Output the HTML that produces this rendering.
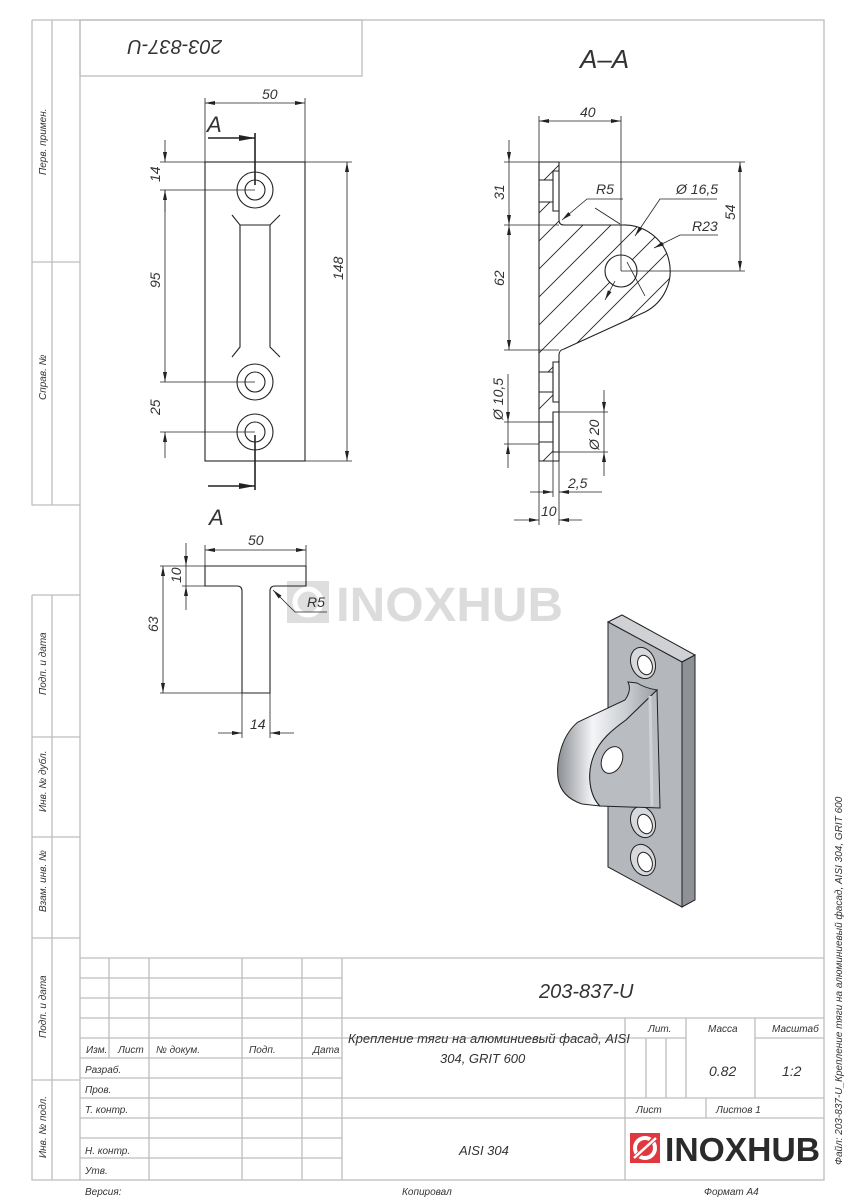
<!DOCTYPE html>
<html><head><meta charset="utf-8"><style>
html,body{margin:0;padding:0;background:#fff;}
svg{display:block;}
text{font-family:"Liberation Sans","DejaVu Sans",sans-serif;font-style:italic;fill:#333;}
text.up{font-style:normal;}
</style></head><body>
<svg width="848" height="1200" viewBox="0 0 848 1200" xmlns="http://www.w3.org/2000/svg">
<defs>
<marker id="ar" viewBox="0 0 10 4" refX="10" refY="2" markerWidth="10" markerHeight="4" orient="auto-start-reverse" markerUnits="userSpaceOnUse"><path d="M0,0 L10,2 L0,4 Z" fill="#222"/></marker>
<marker id="ab" viewBox="0 0 16 6" refX="16" refY="3" markerWidth="16" markerHeight="6" orient="auto" markerUnits="userSpaceOnUse"><path d="M0,0 L16,3 L0,6 Z" fill="#222"/></marker>
<clipPath id="sec"><path d="M539,162 L559,162 L559,220 Q559,225 564,225 L623,225 A46,46 0 0 1 645,312 L564,349 Q559,350 559,355 L559,461 L539,461 Z"/></clipPath>
<linearGradient id="lg" x1="0" y1="0" x2="1" y2="0"><stop offset="0" stop-color="#8a8d92"/><stop offset="0.35" stop-color="#f4f5f7"/><stop offset="0.7" stop-color="#c9ccd0"/><stop offset="1" stop-color="#9a9da2"/></linearGradient>
</defs>

<g fill="none" stroke="#bdbdbd" stroke-width="1.3">
<rect x="80" y="20" width="744" height="1160"/>
<rect x="80" y="20" width="282" height="56"/>
<path d="M32,20 H80 M32,20 V505 H80 M52,20 V505 M32,262 H80"/>
<path d="M32,595 H80 M32,595 V1180 H80 M52,595 V1180 M32,737 H80 M32,837 H80 M32,938 H80 M32,1080 H80"/>
<path d="M80,958 H824 M80,978 H342 M80,998 H342 M80,1018 H824 M80,1038 H686 M80,1058 H342 M80,1078 H342 M80,1098 H824 M80,1118 H824 M80,1138 H342 M80,1158 H342"/>
<path d="M109,958 V1058 M149,958 V1180 M242,958 V1180 M302,958 V1180 M342,958 V1180 M625,1018 V1180 M646,1038 V1098 M666,1038 V1098 M686,1018 V1098 M755,1018 V1098 M706,1098 V1118 M755,1038 H824"/>
</g>
<g font-size="10">
<text transform="translate(46,175) rotate(-90)">Перв. примен.</text>
<text transform="translate(46,400) rotate(-90)">Справ. №</text>
<text transform="translate(46,695) rotate(-90)">Подп. и дата</text>
<text transform="translate(46,812) rotate(-90)">Инв. № дубл.</text>
<text transform="translate(46,912) rotate(-90)">Взам. инв. №</text>
<text transform="translate(46,1038) rotate(-90)">Подп. и дата</text>
<text transform="translate(46,1158) rotate(-90)">Инв. № подл.</text>
<text x="86" y="1053">Изм.</text><text x="118" y="1053">Лист</text><text x="156" y="1053">№ докум.</text><text x="249" y="1053">Подп.</text><text x="313" y="1053">Дата</text>
<text x="85" y="1073">Разраб.</text><text x="85" y="1093">Пров.</text><text x="85" y="1113">Т. контр.</text><text x="85" y="1154">Н. контр.</text><text x="85" y="1174">Утв.</text>
<text x="648" y="1032">Лит.</text><text x="708" y="1032">Масса</text><text x="772" y="1032">Масштаб</text>
<text x="636" y="1113">Лист</text><text x="716" y="1113">Листов 1</text>
<text x="85" y="1195">Версия:</text><text x="402" y="1195">Копировал</text><text x="704" y="1195">Формат А4</text>
<text transform="translate(842,1165) rotate(-90)" font-size="10">Файл: 203-837-U_Крепление тяги на алюминиевый фасад, AISI 304, GRIT 600</text>
</g>
<text x="539" y="998" font-size="20">203-837-U</text>
<text x="348" y="1043" font-size="13">Крепление тяги на алюминиевый фасад, AISI</text>
<text x="440" y="1063" font-size="13">304, GRIT 600</text>
<text x="709" y="1076" font-size="14">0.82</text><text x="782" y="1076" font-size="14">1:2</text>
<text x="459" y="1155" font-size="13">AISI 304</text>
<text x="222" y="54" font-size="20" transform="rotate(180 222 47)">203-837-U</text>
<rect x="630" y="1133" width="30" height="30" fill="#e0383e"/>
<circle cx="645" cy="1148" r="10" fill="none" stroke="#fff" stroke-width="4"/>
<path d="M633,1160 L657,1136" stroke="#e0383e" stroke-width="5"/>
<path d="M634,1158 L656,1138" stroke="#fff" stroke-width="2.5"/>
<text class="up" x="665" y="1161" font-size="33" font-weight="bold" style="fill:#2b2b2b;font-style:normal" textLength="155" lengthAdjust="spacingAndGlyphs">INOXHUB</text>
<rect x="287" y="581" width="42" height="42" fill="#dedede"/>
<circle cx="308" cy="602" r="13" fill="none" stroke="#fff" stroke-width="5"/>
<text class="up" x="336" y="621" font-size="48" font-weight="bold" style="fill:#dcdcdc;font-style:normal" textLength="227" lengthAdjust="spacingAndGlyphs">INOXHUB</text>

<g stroke="#222" stroke-width="1.1" fill="none">
<rect x="205" y="162" width="100" height="299"/>
<circle cx="255" cy="190" r="18"/><circle cx="255" cy="190" r="10"/>
<circle cx="255" cy="382" r="18"/><circle cx="255" cy="382" r="10"/>
<circle cx="255" cy="432" r="18"/><circle cx="255" cy="432" r="10"/>
<path d="M232,215 L240,225 H270 L280,215 M240,225 V347 L232,357 M270,225 V347 L280,357"/>
<g stroke-width="0.8">
<path d="M205,162 V98 M305,162 V98 M305,162 H352 M305,461 H352 M160,162 H205 M160,190 H255 M160,382 H255 M160,432 H255"/>
<path d="M205,103 H305" marker-start="url(#ar)" marker-end="url(#ar)"/>
<path d="M347,162 V461" marker-start="url(#ar)" marker-end="url(#ar)"/>
<path d="M165,140 V162" marker-end="url(#ar)"/><path d="M165,190 V382" marker-start="url(#ar)" marker-end="url(#ar)"/>
<path d="M165,432 V458" marker-start="url(#ar)"/><path d="M165,190 V212" />
</g>
<path d="M255,133 V185 M255,435 V490" stroke-width="1.6"/>
<path d="M208,138 H255" stroke-width="1.6" marker-end="url(#ab)"/>
<path d="M208,486 H255" stroke-width="1.6" marker-end="url(#ab)"/>

<g clip-path="url(#sec)" stroke-width="0.9">
<path d="M100,540 L540,100 M128,540 L568,100 M156,540 L596,100 M184,540 L624,100 M212,540 L652,100 M240,540 L680,100 M268,540 L708,100 M296,540 L736,100 M324,540 L764,100 M352,540 L792,100 M380,540 L820,100 M408,540 L848,100 M436,540 L876,100 M464,540 L904,100 M492,540 L932,100 M520,540 L960,100 M548,540 L988,100 M576,540 L1016,100 M604,540 L1044,100 M632,540 L1072,100 M660,540 L1100,100 M72,540 L512,100 M44,540 L484,100"/>
</g>
<g fill="#fff" stroke="none">
<rect x="539.6" y="180" width="14" height="22"/><rect x="553" y="171" width="6" height="40"/>
<rect x="539.6" y="372" width="14" height="20"/><rect x="553" y="362" width="6" height="40"/>
<rect x="539.6" y="422" width="14" height="20"/><rect x="553" y="412" width="6" height="40"/>
</g>
<path d="M539,162 L559,162 L559,220 Q559,225 564,225 L623,225 A46,46 0 0 1 645,312 L564,349 Q559,350 559,355 L559,461 L539,461 Z"/>
<path d="M559,171 H553 V211 H559 M539,180 H553 M539,202 H553"/>
<path d="M559,362 H553 V402 H559 M539,372 H553 M539,392 H553"/>
<path d="M559,412 H553 V452 H559 M539,422 H553 M539,442 H553"/>
<circle cx="621" cy="271" r="16" fill="#fff"/>
<g stroke-width="0.8">
<path d="M539,162 V116 M621,271 V116 M504,162 H745 M504,225 H559 M504,350 H559 M621,271 H745"/>
<path d="M539,121 H621" marker-start="url(#ar)" marker-end="url(#ar)"/>
<path d="M509,140 V162" marker-end="url(#ar)"/><path d="M509,162 V225" marker-end="url(#ar)"/>
<path d="M509,225 V350" marker-start="url(#ar)" marker-end="url(#ar)"/>
<path d="M740,162 V271" marker-start="url(#ar)" marker-end="url(#ar)"/>
<path d="M620,224 L595,208"/>
<path d="M562,220 L587,199 H623" marker-start="url(#ar)"/>
<path d="M635,236 L660,199 H717" marker-start="url(#ar)"/>
<path d="M627,262 L645,296"/><path d="M615,281 L605,300" marker-end="url(#ar)"/>
<path d="M654,248 L680,235 H718" marker-start="url(#ar)"/>
<path d="M504,422 H539 M504,444 H539 M559,412 H608 M559,452 H608"/>
<path d="M508,374 V422" marker-end="url(#ar)"/><path d="M508,444 V468" marker-start="url(#ar)"/><path d="M508,422 V444"/>
<path d="M604,390 V412" marker-end="url(#ar)"/><path d="M604,452 V476" marker-start="url(#ar)"/><path d="M604,412 V452"/>
<path d="M539,461 V525 M559,461 V525 M553,452 V497"/>
<path d="M530,492 H553" marker-end="url(#ar)"/><path d="M559,492 H602" marker-start="url(#ar)"/>
<path d="M514,520 H539" marker-end="url(#ar)"/><path d="M559,520 H582" marker-start="url(#ar)"/>
</g>

<path d="M205,566 H306 V586 H275 Q270,586 270,591 V693 H242 V591 Q242,586 237,586 H205 Z"/>
<g stroke-width="0.8">
<path d="M205,566 V545 M306,566 V545 M160,566 H205 M182,586 H205 M160,693 H242 M242,693 V738 M270,693 V738"/>
<path d="M205,550 H306" marker-start="url(#ar)" marker-end="url(#ar)"/>
<path d="M186,543 V566" marker-end="url(#ar)"/><path d="M186,586 V610" marker-start="url(#ar)"/><path d="M186,566 V586"/>
<path d="M163,566 V693" marker-start="url(#ar)" marker-end="url(#ar)"/>
<path d="M218,733 H242" marker-end="url(#ar)"/><path d="M270,733 H294" marker-start="url(#ar)"/>
<path d="M273,590 L295,612 H327" marker-start="url(#ar)"/>
</g>
</g>

<g font-size="14">
<text x="262" y="99">50</text><text x="580" y="117">40</text><text x="248" y="545">50</text><text x="250" y="729">14</text>
<text x="596" y="194">R5</text><text x="676" y="194">Ø 16,5</text><text x="692" y="231">R23</text><text x="307" y="607">R5</text>
<text x="568" y="488">2,5</text><text x="541" y="516">10</text>
<text transform="translate(160,182) rotate(-90)">14</text>
<text transform="translate(160,288) rotate(-90)">95</text>
<text transform="translate(160,415) rotate(-90)">25</text>
<text transform="translate(343,280) rotate(-90)">148</text>
<text transform="translate(504,200) rotate(-90)">31</text>
<text transform="translate(504,286) rotate(-90)">62</text>
<text transform="translate(735,220) rotate(-90)">54</text>
<text transform="translate(503,420) rotate(-90)">Ø 10,5</text>
<text transform="translate(599,450) rotate(-90)">Ø 20</text>
<text transform="translate(181,583) rotate(-90)">10</text>
<text transform="translate(158,632) rotate(-90)">63</text>
</g>
<text x="207" y="132" font-size="22">A</text>
<text x="209" y="525" font-size="22">A</text>
<text x="580" y="68" font-size="26">A–A</text>

<g stroke="#222" stroke-width="1">
<path d="M608,622 L622,615 L695,655 L682,662 Z" fill="#cfd1d4"/>
<path d="M682,662 L695,655 L695,900 L682,907 Z" fill="#8e9196"/>
<path d="M608,622 L682,662 L682,907 L608,867 Z" fill="#b4b7bb"/>
<ellipse cx="643" cy="663" rx="12" ry="16" transform="rotate(-20 643 663)" fill="#d7d9dc"/>
<ellipse cx="645" cy="665" rx="7" ry="10" transform="rotate(-20 645 665)" fill="#fff"/>
<ellipse cx="643" cy="822" rx="12" ry="16" transform="rotate(-20 643 822)" fill="#d7d9dc"/>
<ellipse cx="645" cy="824" rx="7" ry="10" transform="rotate(-20 645 824)" fill="#fff"/>
<ellipse cx="643" cy="860" rx="12" ry="16" transform="rotate(-20 643 860)" fill="#d7d9dc"/>
<ellipse cx="645" cy="862" rx="7" ry="10" transform="rotate(-20 645 862)" fill="#fff"/>
<path d="M628,682 Q632,690 625,700 L578,722 C562,735 556,760 558,778 C560,792 570,800 582,804 L600,806 C590,796 586,775 594,755 C600,740 612,730 626,720 L657,690 Q645,688 637,683 Z" fill="url(#lg)"/>
<path d="M657,690 L660,808 L600,806 C590,796 586,775 594,755 C600,740 612,730 626,720 Z" fill="#b9bcc0"/>
<path d="M650,696 L652,806" stroke="#d0d2d5" stroke-width="3"/>
<ellipse cx="612" cy="760" rx="10" ry="14" transform="rotate(25 612 760)" fill="#fff"/>
</g>
</svg>
</body></html>
